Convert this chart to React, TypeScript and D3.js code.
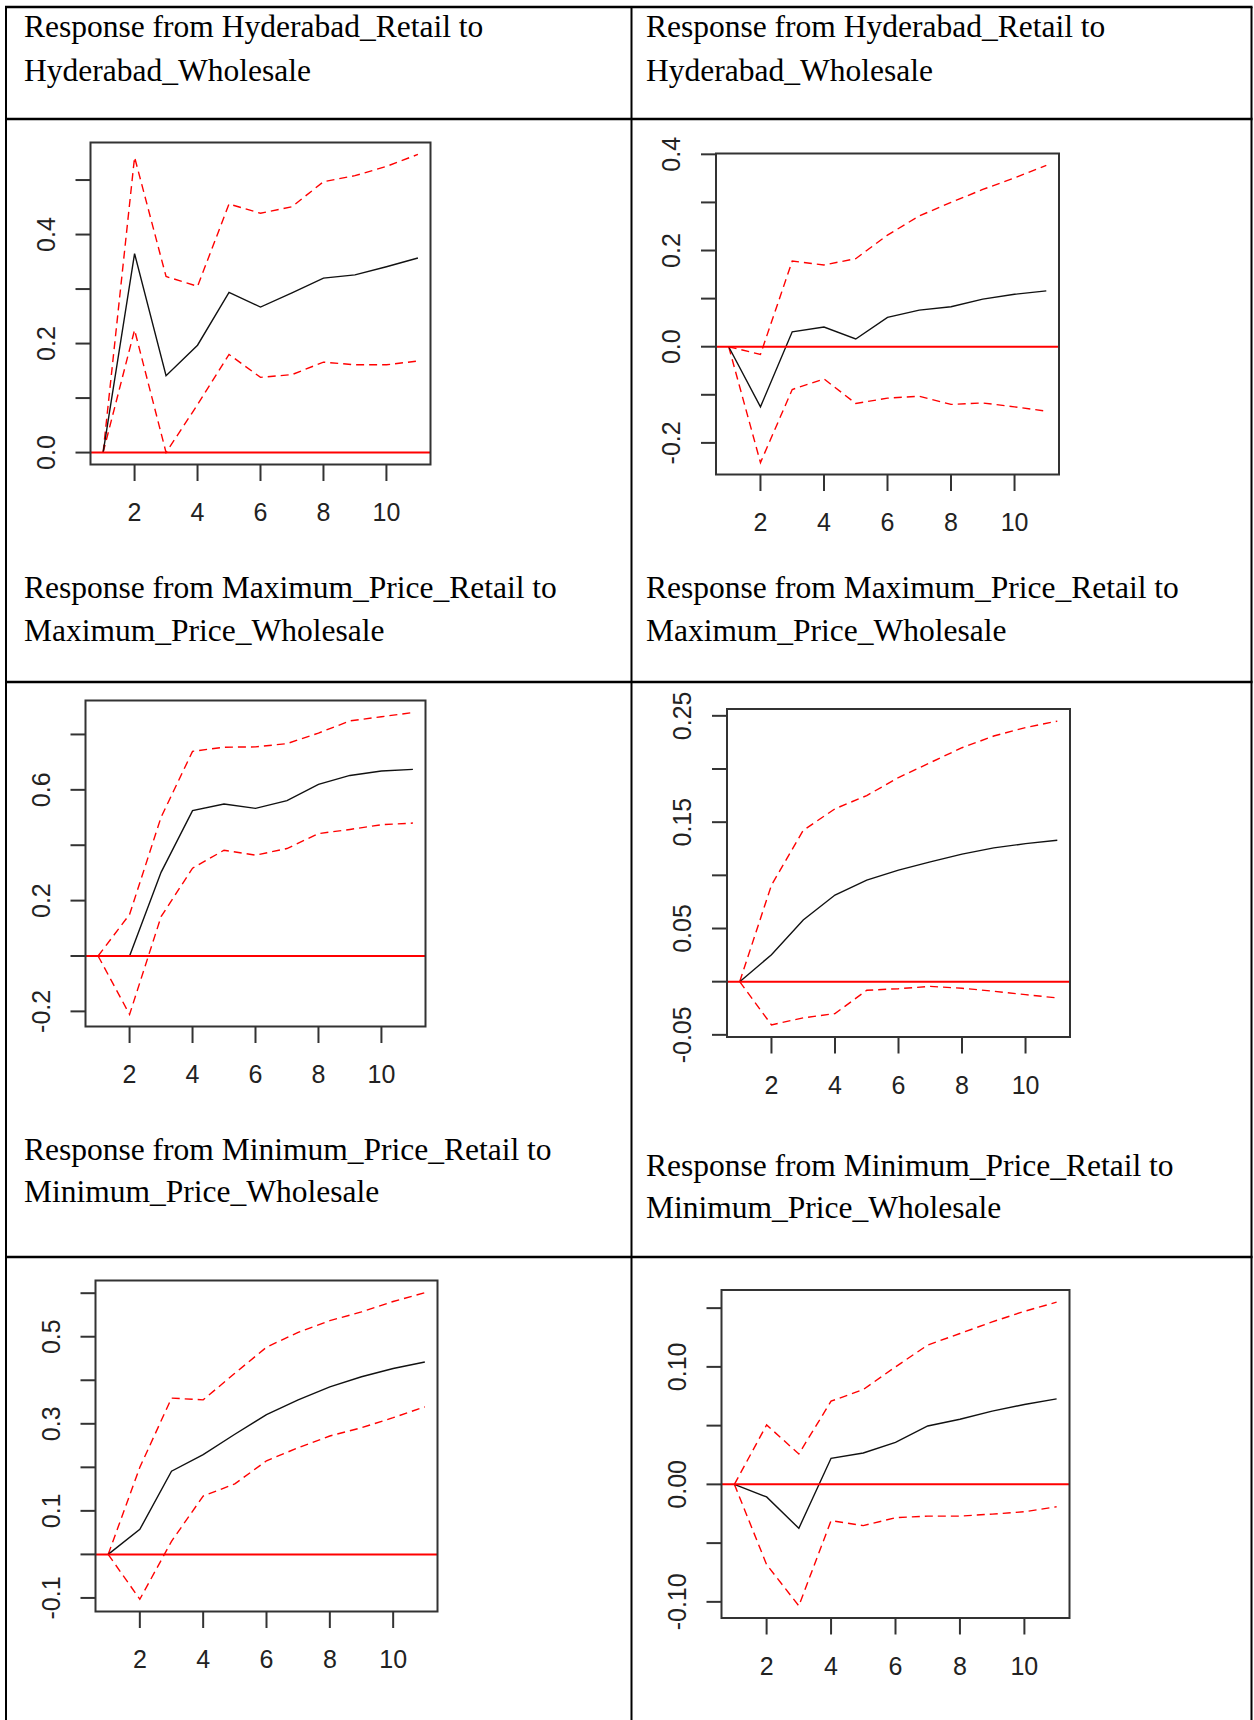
import React from 'react';
import * as d3 from 'd3';

// horizon steps shared by every panel
const steps = [1, 2, 3, 4, 5, 6, 7, 8, 9, 10, 11];
const xTicks = [2, 4, 6, 8, 10];

// Hyderabad, left
const hydAIrf = [0, 0.365, 0.141, 0.197, 0.294, 0.267, 0.293, 0.32, 0.326, 0.341, 0.357];
const hydAUpper = [0, 0.542, 0.323, 0.305, 0.456, 0.439, 0.451, 0.497, 0.508, 0.525, 0.547];
const hydALower = [0, 0.225, 0.0, 0.088, 0.18, 0.138, 0.143, 0.166, 0.161, 0.161, 0.168];
const hydATicks = [0, 0.1, 0.2, 0.3, 0.4, 0.5];
const hydALabels = ['0.0', '0.2', '0.4'];

// Hyderabad, right
const hydBIrf = [0, -0.125, 0.031, 0.041, 0.016, 0.061, 0.076, 0.083, 0.099, 0.109, 0.116];
const hydBUpper = [0, -0.016, 0.178, 0.17, 0.183, 0.232, 0.272, 0.3, 0.327, 0.351, 0.377];
const hydBLower = [0, -0.241, -0.089, -0.067, -0.118, -0.107, -0.103, -0.12, -0.117, -0.125, -0.134];
const hydBTicks = [-0.2, -0.1, 0, 0.1, 0.2, 0.3, 0.4];
const hydBLabels = ['-0.2', '0.0', '0.2', '0.4'];

// Maximum price, left
const maxAIrf = [0, 0, 0.302, 0.525, 0.549, 0.533, 0.561, 0.62, 0.652, 0.668, 0.674];
const maxAUpper = [0, 0.15, 0.501, 0.739, 0.754, 0.755, 0.767, 0.805, 0.849, 0.864, 0.879];
const maxALower = [0, -0.211, 0.142, 0.317, 0.382, 0.364, 0.388, 0.442, 0.457, 0.474, 0.48];
const maxATicks = [-0.2, 0, 0.2, 0.4, 0.6, 0.8];
const maxALabels = ['-0.2', '0.2', '0.6'];

// Maximum price, right
const maxBIrf = [0, 0.0253, 0.058, 0.0815, 0.0955, 0.1049, 0.1127, 0.1199, 0.1258, 0.1298, 0.133];
const maxBUpper = [0, 0.0908, 0.1423, 0.1626, 0.175, 0.192, 0.206, 0.22, 0.231, 0.239, 0.245];
const maxBLower = [0, -0.0406, -0.034, -0.03, -0.0081, -0.0066, -0.0044, -0.0062, -0.009, -0.0122, -0.0153];
const maxBTicks = [-0.05, 0, 0.05, 0.1, 0.15, 0.2, 0.25];
const maxBLabels = ['-0.05', '0.05', '0.15', '0.25'];

// Minimum price, left
const minAIrf = [0, 0.0575, 0.191, 0.229, 0.276, 0.321, 0.355, 0.385, 0.408, 0.427, 0.442];
const minAUpper = [0, 0.2, 0.359, 0.355, 0.416, 0.476, 0.51, 0.537, 0.557, 0.581, 0.601];
const minALower = [0, -0.103, 0.03, 0.134, 0.162, 0.215, 0.245, 0.272, 0.291, 0.314, 0.339];
const minATicks = [-0.1, 0, 0.1, 0.2, 0.3, 0.4, 0.5, 0.6];
const minALabels = ['-0.1', '0.1', '0.3', '0.5'];

// Minimum price, right
const minBIrf = [0, -0.0107, -0.0374, 0.0222, 0.0267, 0.0357, 0.0497, 0.0554, 0.0624, 0.068, 0.0728];
const minBUpper = [0, 0.0506, 0.0259, 0.0708, 0.0807, 0.1, 0.1186, 0.1284, 0.1383, 0.1473, 0.1551];
const minBLower = [0, -0.0683, -0.1034, -0.0309, -0.0351, -0.0284, -0.027, -0.027, -0.0253, -0.0233, -0.0191];
const minBTicks = [-0.1, -0.05, 0, 0.05, 0.1, 0.15];
const minBLabels = ['-0.10', '0.00', '0.10'];

const hydTitle = ['Response from Hyderabad_Retail to', 'Hyderabad_Wholesale'];
const maxTitle = ['Response from Maximum_Price_Retail to', 'Maximum_Price_Wholesale'];
const minTitle = ['Response from Minimum_Price_Retail to', 'Minimum_Price_Wholesale'];

// where each plot box sits on the page
const panels = [
  { irf: hydAIrf, upper: hydAUpper, lower: hydALower, ticks: hydATicks, labels: hydALabels, box: [90.5, 142.5, 340, 322] },
  { irf: hydBIrf, upper: hydBUpper, lower: hydBLower, ticks: hydBTicks, labels: hydBLabels, box: [716, 153.5, 343, 321] },
  { irf: maxAIrf, upper: maxAUpper, lower: maxALower, ticks: maxATicks, labels: maxALabels, box: [85.5, 700.5, 340, 326] },
  { irf: maxBIrf, upper: maxBUpper, lower: maxBLower, ticks: maxBTicks, labels: maxBLabels, box: [727, 709, 343, 328] },
  { irf: minAIrf, upper: minAUpper, lower: minALower, ticks: minATicks, labels: minALabels, box: [95.5, 1280.5, 342, 331] },
  { irf: minBIrf, upper: minBUpper, lower: minBLower, ticks: minBTicks, labels: minBLabels, box: [721.5, 1290, 348, 328] },
];

const titles = [
  { lines: hydTitle, x: 24, y: [37, 81] },
  { lines: hydTitle, x: 646, y: [37, 81] },
  { lines: maxTitle, x: 24, y: [598, 641] },
  { lines: maxTitle, x: 646, y: [598, 641] },
  { lines: minTitle, x: 24, y: [1160, 1202] },
  { lines: minTitle, x: 646, y: [1176, 1218] },
];

const sans = '"Liberation Sans", Arial, sans-serif';
const serif = '"Liberation Serif", "Times New Roman", serif';

function Panel({ p }) {
  const [bx, by, bw, bh] = p.box;
  const all = [...p.irf, ...p.upper, ...p.lower];
  const lo = d3.min(all), hi = d3.max(all);
  const yPad = (hi - lo) * 0.04;
  const [s0, s1] = d3.extent(steps);
  const xPad = (s1 - s0) * 0.04;

  const x = d3.scaleLinear().domain([s0 - xPad, s1 + xPad]).range([bx, bx + bw]);
  const y = d3.scaleLinear().domain([lo - yPad, hi + yPad]).range([by + bh, by]);
  const line = d3.line().x((d, i) => x(steps[i])).y(d => y(d));

  const labelled = p.labels.map(Number);
  const bottom = by + bh;

  return (
    <g>
      <path d={line(p.upper)} fill="none" stroke="#ff0000" strokeWidth={1.4} strokeDasharray="8,5" />
      <path d={line(p.lower)} fill="none" stroke="#ff0000" strokeWidth={1.4} strokeDasharray="8,5" />
      <path d={line(p.irf)} fill="none" stroke="#111" strokeWidth={1.4} />
      <line x1={bx} x2={bx + bw} y1={y(0)} y2={y(0)} stroke="#ff0000" strokeWidth={2} />
      <rect x={bx} y={by} width={bw} height={bh} fill="none" stroke="#333" strokeWidth={2} />

      {p.ticks.map(t => (
        <line key={'yt' + t} x1={bx - 15} x2={bx} y1={y(t)} y2={y(t)} stroke="#333" strokeWidth={2} />
      ))}
      {p.labels.map((lab, i) => (
        <text key={'yl' + lab} transform={`translate(${bx - 45},${y(labelled[i])}) rotate(-90)`}
          textAnchor="middle" dy="0.36em" fontFamily={sans} fontSize={25} fill="#222">{lab}</text>
      ))}

      {xTicks.map(t => (
        <line key={'xt' + t} x1={x(t)} x2={x(t)} y1={bottom} y2={bottom + 16.5} stroke="#333" strokeWidth={2} />
      ))}
      {xTicks.map(t => (
        <text key={'xl' + t} x={x(t)} y={bottom + 47.5} dy="0.36em" textAnchor="middle"
          fontFamily={sans} fontSize={25} fill="#222">{t}</text>
      ))}
    </g>
  );
}

export default function App() {
  const W = 1254, H = 1720;
  const rows = [7, 119, 682, 1257];
  const cols = [6, 631.5, 1251.5];

  return (
    <div style={{ position: 'absolute', left: 0, top: 0 }}>
      <svg width={W} height={H} style={{ display: 'block', background: '#fff' }}>
        <rect width={W} height={H} fill="#fff" />
        {rows.map(r => (
          <line key={'r' + r} x1={cols[0] - 1} x2={cols[2] + 1} y1={r} y2={r} stroke="#000" strokeWidth={2.5} />
        ))}
        {cols.map(c => (
          <line key={'c' + c} x1={c} x2={c} y1={rows[0]} y2={H} stroke="#000" strokeWidth={2} />
        ))}
        {titles.map((t, i) => (
          <text key={'t' + i} fontFamily={serif} fontSize={31.5} fill="#000">
            {t.lines.map((ln, j) => (
              <tspan key={j} x={t.x} y={t.y[j]}>{ln}</tspan>
            ))}
          </text>
        ))}
        {panels.map((p, i) => <Panel key={i} p={p} />)}
      </svg>
    </div>
  );
}
